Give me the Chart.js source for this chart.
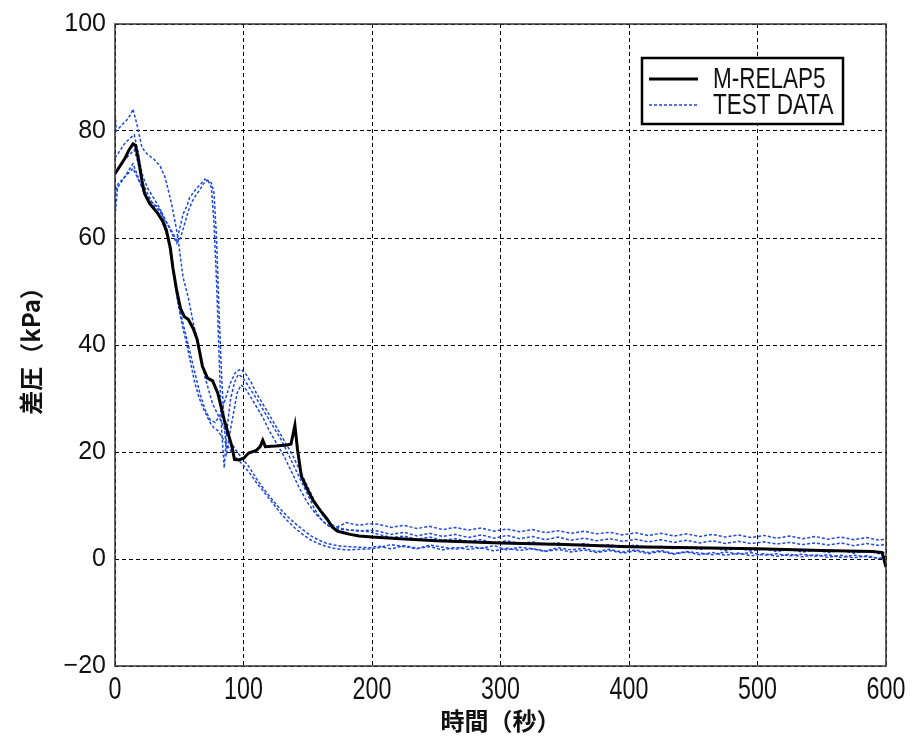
<!DOCTYPE html>
<html>
<head>
<meta charset="utf-8">
<script src="https://cdn.jsdelivr.net/npm/chart.js@4/dist/chart.umd.min.js"></script>
<style>
  html, body { margin: 0; padding: 0; background: #fff; }
  #wrap { width: 914px; height: 740px; }
</style>
</head>
<body>
<div id="wrap"><canvas id="chart" width="914" height="740"></canvas></div>
<script>
// axis setup
const xTicks = [0, 100, 200, 300, 400, 500, 600];
const yTicks = [-20, 0, 20, 40, 60, 80, 100];

// M-RELAP5 calculation (time s, dP kPa)
const relapT = [0, 4, 8, 11, 14, 16, 18, 21, 23, 27, 33, 37, 40, 43, 45, 48, 51, 54, 57, 61, 64, 68, 72, 76, 80, 85, 91, 93, 96, 100, 104, 110, 113, 115, 117, 125, 134, 137, 140, 142, 145, 149, 154, 160, 165, 169, 173, 178, 183, 190, 200, 222, 250, 300, 350, 400, 450, 500, 550, 590, 597, 600];
const relapP = [72, 73.5, 75, 76.5, 77.6, 77.3, 75, 70.7, 68.3, 66.4, 64.7, 63.2, 61.4, 58.2, 54.5, 50.2, 46.8, 45.3, 44.8, 43, 41, 36, 33.8, 33.3, 31, 26, 21, 18.6, 18.5, 18.8, 19.8, 20.3, 21, 22.2, 21, 21.1, 21.3, 21.5, 25, 20.5, 15.5, 13.4, 11, 9, 7.5, 6, 5.2, 4.9, 4.6, 4.3, 4.1, 3.8, 3.4, 3.0, 2.7, 2.3, 2.1, 1.9, 1.6, 1.4, 1.2, -1.5];

// test data runs (transient part + long tail)
const tailT = [205, 215, 225, 235, 245, 255, 265, 275, 285, 295, 305, 315, 325, 335, 345, 355, 365, 375, 385, 395, 405, 415, 425, 435, 445, 455, 465, 475, 485, 495, 505, 515, 525, 535, 545, 555, 565, 575, 585, 595, 600];

const test1T = [0, 1, 3, 6, 9, 12, 14, 17, 21, 25, 30, 35, 39, 41, 44, 47, 49, 51, 53, 57, 61, 64, 67, 70, 73, 76, 79, 82, 85, 88, 91, 95, 100, 105, 110, 116, 122, 128, 134, 140, 146, 152, 158, 164, 170, 176, 182, 190, 198].concat(tailT);
const test1P = [84, 80, 80.5, 81.3, 82, 83, 84.1, 81.3, 76.9, 75.7, 74.8, 73.5, 71.3, 69.4, 66.4, 62.7, 60, 56.3, 52.6, 48.9, 44, 41, 38, 34, 31.5, 29, 27.5, 26, 24.5, 23, 21.5, 20, 18.5, 17, 15, 13, 11.2, 9.5, 8, 6.7, 5.5, 4.4, 3.6, 3, 2.6, 2.4, 2.3, 2.2, 2.1,
  2.4, 1.9, 2.5, 2.0, 2.3, 1.7, 2.2, 1.8, 2.1, 1.5, 2.0, 1.6, 1.9, 1.4, 1.8, 1.3, 1.7, 1.2, 1.6, 1.1, 1.5, 1.0, 1.4, 0.9, 1.3, 0.8, 1.2, 0.7, 1.1, 0.6, 1.0, 0.5, 0.9, 0.4, 0.8, 0.3, 0.7, 0.2, 0.6, 0.1, 0.4];

const test2T = [0, 2, 5, 9, 14, 17, 20, 22, 27, 32, 36, 40, 44, 48, 50, 53, 56, 58, 61, 64, 67, 70, 72.5, 75, 77, 79, 81, 83, 85, 87, 90, 93, 96, 99, 102, 106, 110, 115, 120, 125, 130, 135, 140, 145, 150, 155, 160, 165, 170, 175, 180, 190, 198].concat(tailT);
const test2P = [64, 69.4, 70.5, 72, 73.9, 72, 70.1, 68.8, 67, 66, 65, 63, 61.4, 59.5, 61.4, 64.5, 66, 67.5, 68.5, 69.4, 70.2, 71, 70.7, 69.4, 63, 52, 38, 24, 17, 24, 30, 33, 34.5, 34, 33, 31.5, 30, 28, 26, 24, 22, 19.5, 17, 14.5, 12, 9.5, 7.5, 6.3, 5.8, 6.2, 6.8, 6.3, 6.6,
  6.5, 5.9, 6.3, 5.7, 6.1, 5.5, 5.9, 5.4, 5.8, 5.2, 5.6, 5.1, 5.5, 4.9, 5.3, 4.8, 5.2, 4.7, 5.0, 4.5, 4.9, 4.4, 4.8, 4.3, 4.7, 4.2, 4.6, 4.1, 4.5, 4.0, 4.4, 3.9, 4.3, 3.8, 4.2, 3.7, 4.1, 3.6, 4.0, 3.5, 3.8];

const test3T = [0, 3, 7, 11, 15, 18, 21, 25, 30, 35, 40, 43, 46, 49, 52, 55, 58, 62, 66, 70, 74, 78, 82, 86, 90, 94, 98, 102, 106, 110, 115, 120, 126, 132, 138, 144, 150, 156, 162, 168, 174, 180, 190, 198].concat(tailT);
const test3P = [75, 76, 77.5, 78.5, 79.3, 76, 72, 69.5, 67.5, 65.5, 62, 58, 53, 48, 45, 42, 39, 35, 31, 28, 26, 25.5, 27, 30, 33, 35, 35.5, 34.5, 33, 31, 29, 27, 24.5, 22, 19.5, 16.5, 13.5, 10.5, 8, 6.5, 5.8, 5.5, 5.2, 5.4,
  5.2, 4.6, 5.0, 4.3, 4.8, 4.2, 4.6, 4.0, 4.5, 3.9, 4.4, 3.8, 4.2, 3.6, 4.1, 3.5, 3.9, 3.4, 3.8, 3.3, 3.7, 3.2, 3.6, 3.1, 3.5, 3.0, 3.4, 2.9, 3.3, 2.9, 3.2, 2.8, 3.1, 2.7, 3.0, 2.6, 3.0, 2.5, 2.9, 2.5, 2.8];

const test4T = [0, 3, 7, 11, 15, 18, 22, 27, 32, 37, 41, 44, 47, 50, 53, 56, 59, 62, 65, 68, 71, 74, 77, 80, 84, 88, 92, 96, 100, 105, 110, 116, 122, 128, 134, 140, 146, 152, 158, 164, 170, 176, 182, 190, 198].concat(tailT);
const test4P = [72, 73, 74.5, 75.5, 76.5, 74, 70, 67.5, 65, 63, 60, 56, 51, 46.5, 43, 40, 36.5, 33, 30.5, 28.5, 27, 25.5, 24.5, 24, 22.5, 21, 19.5, 18.5, 17.5, 16, 14.3, 12.5, 10.7, 8.8, 7.2, 5.8, 4.6, 3.6, 2.9, 2.4, 2.0, 1.8, 1.7, 1.8, 1.9,
  2.1, 2.7, 2.3, 1.9, 2.6, 2.2, 1.8, 2.4, 2.0, 2.5, 1.7, 2.2, 1.9, 1.5, 2.1, 1.7, 2.0, 1.4, 1.8, 1.3, 1.7, 1.2, 1.6, 1.0, 1.4, 1.1, 0.8, 1.3, 0.9, 1.2, 0.7, 1.0, 0.6, 0.9, 0.5, 0.8, 0.3, 0.7, 0.4, 0.1, 0.5];

const test5T = [0, 2, 6, 10, 14, 18, 22, 26, 31, 36, 41, 45, 48, 51, 54, 57, 60, 63, 66, 69, 72, 75, 77, 79, 81, 83, 85, 87, 89, 92, 95, 98, 101, 105, 110, 115, 120, 126, 132, 138, 144, 150, 156, 162, 168, 174, 180, 190, 198].concat(tailT);
const test5P = [68, 70, 71, 72, 73, 71, 69, 67.5, 66, 64.5, 62.5, 60.5, 59, 60, 62.5, 65, 66.8, 68, 69, 70.2, 70.8, 70.3, 68.5, 60, 46, 34, 25, 20, 23, 27, 31, 32.5, 32, 30.5, 28.5, 26.5, 24, 21.5, 19, 16, 13, 10.5, 8.5, 7, 6, 5.5, 5.5, 5.3, 5.1,
  4.6, 4.0, 4.3, 3.7, 4.1, 3.5, 3.8, 3.3, 3.6, 3.0, 3.4, 2.9, 3.2, 2.7, 3.0, 2.5, 2.9, 2.4, 2.7, 2.2, 2.6, 2.1, 2.4, 1.9, 2.3, 1.8, 2.1, 1.6, 2.0, 1.5, 1.9, 1.4, 1.8, 1.3, 1.7, 1.2, 1.6, 1.1, 1.5, 1.0, 1.3];

const BLUE = "#1c48e4";
const NARROW = "'Liberation Sans', Arial, sans-serif";

function pts(t, p) {
    return t.map((x, i) => ({ x: x, y: p[i] }));
}

function testSet(label, t, p) {
    return {
        label: label,
        data: pts(t, p),
        borderColor: BLUE,
        borderWidth: 1.5,
        borderDash: [3, 2],
        pointRadius: 0,
        tension: 0,
    };
}

// condensed text (the original uses a narrow face)
function narrowText(ctx, text, x, y, size, align) {
    ctx.save();
    ctx.translate(x, y);
    ctx.scale(0.75, 1);
    ctx.font = size + "px " + NARROW;
    ctx.textAlign = align;
    ctx.fillText(text, 0, 0);
    ctx.restore();
}

// frame around plot, narrow x tick labels, boxed legend
const framePlugin = {
    id: "frame",
    afterDraw(chart) {
        const ctx = chart.ctx;
        const a = chart.chartArea;
        ctx.save();
        ctx.setLineDash([]);
        ctx.strokeStyle = "#333";
        ctx.lineWidth = 1.5;
        ctx.strokeRect(a.left, a.top, a.right - a.left, a.bottom - a.top);

        const xs = chart.scales.x;
        ctx.fillStyle = "#111";
        ctx.textBaseline = "top";
        xs.ticks.forEach(t => {
            narrowText(ctx, String(t.value), xs.getPixelForValue(t.value), a.bottom + 9, 31, "center");
        });

        // legend box
        const bx = 642, by = 58, bw = 201, bh = 66;
        ctx.fillStyle = "#fff";
        ctx.fillRect(bx, by, bw, bh);
        ctx.strokeStyle = "#000";
        ctx.lineWidth = 2.5;
        ctx.strokeRect(bx, by, bw, bh);

        const items = chart.data.datasets.filter(d => d.label);
        items.forEach((d, i) => {
            const y = 79 + i * 26;
            ctx.beginPath();
            ctx.setLineDash(d.borderDash || []);
            ctx.strokeStyle = d.borderColor;
            ctx.lineWidth = d.borderWidth;
            ctx.moveTo(649, y);
            ctx.lineTo(698, y);
            ctx.stroke();
            ctx.setLineDash([]);
            ctx.fillStyle = "#111";
            ctx.textBaseline = "middle";
            narrowText(ctx, d.label, 713, y + 1, 30, "left");
        });
        ctx.restore();
    },
};

new Chart(document.getElementById("chart"), {
    type: "line",
    data: {
        datasets: [
            {
                label: "M-RELAP5",
                data: pts(relapT, relapP),
                borderColor: "#000",
                borderWidth: 3,
                pointRadius: 0,
                tension: 0,
            },
            testSet("TEST DATA", test1T, test1P),
            testSet("", test2T, test2P),
            testSet("", test3T, test3P),
            testSet("", test4T, test4P),
            testSet("", test5T, test5P),
        ],
    },
    options: {
        responsive: false,
        animation: false,
        layout: { padding: { left: 0, right: 28, top: 23, bottom: 0 } },
        plugins: {
            legend: { display: false },
            tooltip: { enabled: false },
        },
        scales: {
            x: {
                type: "linear",
                min: xTicks[0],
                max: xTicks[xTicks.length - 1],
                afterBuildTicks: (s) => { s.ticks = xTicks.map(v => ({ value: v })); },
                afterFit: (s) => { s.height = 74; },
                grid: { color: "#000", lineWidth: 1, drawTicks: false },
                border: { display: false, dash: [4, 3] },
                ticks: { display: false },
                title: {
                    display: true,
                    text: "時間（秒）",
                    color: "#111",
                    padding: { top: 0, bottom: 5 },
                    font: { family: "'Noto Sans CJK JP', sans-serif", size: 24, weight: "bold" },
                },
            },
            y: {
                min: yTicks[0],
                max: yTicks[yTicks.length - 1],
                afterBuildTicks: (s) => { s.ticks = yTicks.map(v => ({ value: v })); },
                afterFit: (s) => { s.width = 115; },
                grid: { color: "#000", lineWidth: 1, drawTicks: false },
                border: { display: false, dash: [4, 3] },
                ticks: {
                    padding: 9,
                    color: "#111",
                    font: { family: "'Liberation Sans', Arial, sans-serif", size: 25 },
                    callback: (v) => String(v).replace("-", "\u2212"),
                },
                title: {
                    display: true,
                    text: "差圧（kPa）",
                    color: "#111",
                    padding: { top: 16, bottom: 0 },
                    font: { family: "'Noto Sans CJK JP', sans-serif", size: 24, weight: "bold" },
                },
            },
        },
    },
    plugins: [framePlugin],
});
</script>
</body>
</html>
